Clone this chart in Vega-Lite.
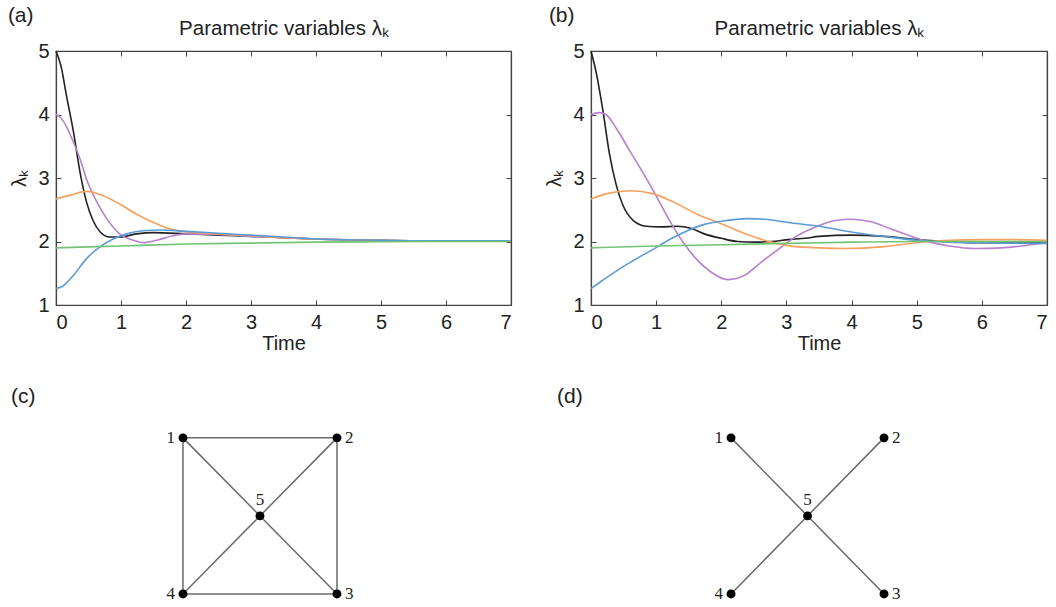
{
  "$schema": "https://vega.github.io/schema/vega-lite/v6.json",
  "padding": {"left": 7, "top": 3, "right": 0, "bottom": 0},
  "background": "white",
  "config": {
    "font": "Liberation Sans",
    "view": {"stroke": "#444", "strokeWidth": 1.2},
    "axis": {"grid": false, "domainColor": "#444", "domainWidth": 1.2, "tickColor": "#444", "tickSize": -5, "labelFontSize": 20, "titleFontSize": 20, "titleFontWeight": "normal", "labelColor": "#222", "titleColor": "#222", "labelPadding": 12},
    "title": {"color": "#222", "fontWeight": "normal", "fontSize": 21}
  },
  "datasets": {
    "a": [
      {"k": "λ5", "t": 0, "v": 5}, {"k": "λ5", "t": 0.08, "v": 4.75}, {"k": "λ5", "t": 0.16, "v": 4.3}, {"k": "λ5", "t": 0.27, "v": 3.72}, {"k": "λ5", "t": 0.37, "v": 3.09}, {"k": "λ5", "t": 0.47, "v": 2.62}, {"k": "λ5", "t": 0.57, "v": 2.33}, {"k": "λ5", "t": 0.68, "v": 2.15}, {"k": "λ5", "t": 0.83, "v": 2.07}, {"k": "λ5", "t": 0.98, "v": 2.07}, {"k": "λ5", "t": 1.24, "v": 2.12}, {"k": "λ5", "t": 1.5, "v": 2.14}, {"k": "λ5", "t": 2, "v": 2.12}, {"k": "λ5", "t": 2.5, "v": 2.1}, {"k": "λ5", "t": 3, "v": 2.08}, {"k": "λ5", "t": 3.5, "v": 2.06}, {"k": "λ5", "t": 4, "v": 2.04}, {"k": "λ5", "t": 5, "v": 2.02}, {"k": "λ5", "t": 6, "v": 2.01}, {"k": "λ5", "t": 7, "v": 2.01},
      {"k": "λ4", "t": 0, "v": 4.0}, {"k": "λ4", "t": 0.05, "v": 3.97}, {"k": "λ4", "t": 0.11, "v": 3.9}, {"k": "λ4", "t": 0.27, "v": 3.56}, {"k": "λ4", "t": 0.37, "v": 3.3}, {"k": "λ4", "t": 0.47, "v": 2.98}, {"k": "λ4", "t": 0.63, "v": 2.62}, {"k": "λ4", "t": 0.78, "v": 2.36}, {"k": "λ4", "t": 0.98, "v": 2.12}, {"k": "λ4", "t": 1.19, "v": 2.02}, {"k": "λ4", "t": 1.34, "v": 1.98}, {"k": "λ4", "t": 1.55, "v": 2.02}, {"k": "λ4", "t": 1.8, "v": 2.09}, {"k": "λ4", "t": 2, "v": 2.12}, {"k": "λ4", "t": 2.5, "v": 2.11}, {"k": "λ4", "t": 3, "v": 2.08}, {"k": "λ4", "t": 3.5, "v": 2.06}, {"k": "λ4", "t": 4, "v": 2.04}, {"k": "λ4", "t": 5, "v": 2.02}, {"k": "λ4", "t": 6, "v": 2.01}, {"k": "λ4", "t": 7, "v": 2.01},
      {"k": "λ2", "t": 0, "v": 2.67}, {"k": "λ2", "t": 0.22, "v": 2.73}, {"k": "λ2", "t": 0.47, "v": 2.79}, {"k": "λ2", "t": 0.73, "v": 2.72}, {"k": "λ2", "t": 0.98, "v": 2.59}, {"k": "λ2", "t": 1.24, "v": 2.43}, {"k": "λ2", "t": 1.5, "v": 2.3}, {"k": "λ2", "t": 1.75, "v": 2.2}, {"k": "λ2", "t": 2, "v": 2.15}, {"k": "λ2", "t": 2.5, "v": 2.12}, {"k": "λ2", "t": 3, "v": 2.09}, {"k": "λ2", "t": 3.5, "v": 2.06}, {"k": "λ2", "t": 4, "v": 2.04}, {"k": "λ2", "t": 5, "v": 2.02}, {"k": "λ2", "t": 6, "v": 2.01}, {"k": "λ2", "t": 7, "v": 2.01},
      {"k": "λ1", "t": 0, "v": 1.26}, {"k": "λ1", "t": 0.11, "v": 1.3}, {"k": "λ1", "t": 0.27, "v": 1.47}, {"k": "λ1", "t": 0.47, "v": 1.73}, {"k": "λ1", "t": 0.68, "v": 1.92}, {"k": "λ1", "t": 0.88, "v": 2.04}, {"k": "λ1", "t": 1.09, "v": 2.12}, {"k": "λ1", "t": 1.34, "v": 2.17}, {"k": "λ1", "t": 1.6, "v": 2.18}, {"k": "λ1", "t": 2, "v": 2.16}, {"k": "λ1", "t": 2.5, "v": 2.13}, {"k": "λ1", "t": 3, "v": 2.1}, {"k": "λ1", "t": 3.5, "v": 2.07}, {"k": "λ1", "t": 4, "v": 2.04}, {"k": "λ1", "t": 5, "v": 2.02}, {"k": "λ1", "t": 6, "v": 2.01}, {"k": "λ1", "t": 7, "v": 2.01},
      {"k": "λ3", "t": 0, "v": 1.9}, {"k": "λ3", "t": 1, "v": 1.93}, {"k": "λ3", "t": 2, "v": 1.96}, {"k": "λ3", "t": 3, "v": 1.975}, {"k": "λ3", "t": 4, "v": 1.99}, {"k": "λ3", "t": 5, "v": 1.995}, {"k": "λ3", "t": 6, "v": 2.0}, {"k": "λ3", "t": 7, "v": 2.0}
    ],
    "b": [
      {"k": "λ5", "t": 0, "v": 5}, {"k": "λ5", "t": 0.08, "v": 4.66}, {"k": "λ5", "t": 0.18, "v": 4.08}, {"k": "λ5", "t": 0.28, "v": 3.4}, {"k": "λ5", "t": 0.39, "v": 2.88}, {"k": "λ5", "t": 0.49, "v": 2.57}, {"k": "λ5", "t": 0.65, "v": 2.33}, {"k": "λ5", "t": 0.85, "v": 2.24}, {"k": "λ5", "t": 1.06, "v": 2.23}, {"k": "λ5", "t": 1.32, "v": 2.24}, {"k": "λ5", "t": 1.53, "v": 2.21}, {"k": "λ5", "t": 1.74, "v": 2.12}, {"k": "λ5", "t": 2, "v": 2.05}, {"k": "λ5", "t": 2.25, "v": 2.0}, {"k": "λ5", "t": 2.51, "v": 1.99}, {"k": "λ5", "t": 2.77, "v": 2.0}, {"k": "λ5", "t": 3.03, "v": 2.03}, {"k": "λ5", "t": 3.29, "v": 2.05}, {"k": "λ5", "t": 3.5, "v": 2.08}, {"k": "λ5", "t": 4, "v": 2.1}, {"k": "λ5", "t": 4.5, "v": 2.08}, {"k": "λ5", "t": 5, "v": 2.03}, {"k": "λ5", "t": 5.5, "v": 2.0}, {"k": "λ5", "t": 6, "v": 1.98}, {"k": "λ5", "t": 6.5, "v": 1.98}, {"k": "λ5", "t": 7, "v": 1.99},
      {"k": "λ4", "t": 0, "v": 4.0}, {"k": "λ4", "t": 0.13, "v": 4.03}, {"k": "λ4", "t": 0.23, "v": 4.0}, {"k": "λ4", "t": 0.39, "v": 3.78}, {"k": "λ4", "t": 0.6, "v": 3.42}, {"k": "λ4", "t": 0.8, "v": 3.08}, {"k": "λ4", "t": 1.0, "v": 2.72}, {"k": "λ4", "t": 1.2, "v": 2.34}, {"k": "λ4", "t": 1.42, "v": 1.98}, {"k": "λ4", "t": 1.63, "v": 1.71}, {"k": "λ4", "t": 1.84, "v": 1.52}, {"k": "λ4", "t": 2.1, "v": 1.4}, {"k": "λ4", "t": 2.36, "v": 1.47}, {"k": "λ4", "t": 2.62, "v": 1.68}, {"k": "λ4", "t": 2.88, "v": 1.88}, {"k": "λ4", "t": 3.13, "v": 2.07}, {"k": "λ4", "t": 3.45, "v": 2.23}, {"k": "λ4", "t": 3.75, "v": 2.33}, {"k": "λ4", "t": 4.0, "v": 2.35}, {"k": "λ4", "t": 4.3, "v": 2.31}, {"k": "λ4", "t": 4.6, "v": 2.2}, {"k": "λ4", "t": 5.0, "v": 2.05}, {"k": "λ4", "t": 5.2, "v": 1.99}, {"k": "λ4", "t": 5.5, "v": 1.93}, {"k": "λ4", "t": 5.9, "v": 1.89}, {"k": "λ4", "t": 6.3, "v": 1.9}, {"k": "λ4", "t": 6.7, "v": 1.94}, {"k": "λ4", "t": 7, "v": 1.98},
      {"k": "λ2", "t": 0, "v": 2.67}, {"k": "λ2", "t": 0.23, "v": 2.75}, {"k": "λ2", "t": 0.6, "v": 2.8}, {"k": "λ2", "t": 0.96, "v": 2.75}, {"k": "λ2", "t": 1.27, "v": 2.62}, {"k": "λ2", "t": 1.63, "v": 2.43}, {"k": "λ2", "t": 2.0, "v": 2.28}, {"k": "λ2", "t": 2.25, "v": 2.17}, {"k": "λ2", "t": 2.51, "v": 2.07}, {"k": "λ2", "t": 2.77, "v": 1.99}, {"k": "λ2", "t": 3.13, "v": 1.92}, {"k": "λ2", "t": 3.5, "v": 1.9}, {"k": "λ2", "t": 3.9, "v": 1.89}, {"k": "λ2", "t": 4.5, "v": 1.92}, {"k": "λ2", "t": 5, "v": 1.98}, {"k": "λ2", "t": 5.5, "v": 2.02}, {"k": "λ2", "t": 6, "v": 2.03}, {"k": "λ2", "t": 6.5, "v": 2.03}, {"k": "λ2", "t": 7, "v": 2.02},
      {"k": "λ1", "t": 0, "v": 1.26}, {"k": "λ1", "t": 0.18, "v": 1.39}, {"k": "λ1", "t": 0.44, "v": 1.57}, {"k": "λ1", "t": 0.7, "v": 1.73}, {"k": "λ1", "t": 0.96, "v": 1.88}, {"k": "λ1", "t": 1.22, "v": 2.04}, {"k": "λ1", "t": 1.48, "v": 2.17}, {"k": "λ1", "t": 1.74, "v": 2.27}, {"k": "λ1", "t": 2.0, "v": 2.32}, {"k": "λ1", "t": 2.41, "v": 2.36}, {"k": "λ1", "t": 2.67, "v": 2.35}, {"k": "λ1", "t": 3.03, "v": 2.3}, {"k": "λ1", "t": 3.5, "v": 2.24}, {"k": "λ1", "t": 4, "v": 2.15}, {"k": "λ1", "t": 4.5, "v": 2.08}, {"k": "λ1", "t": 5, "v": 2.02}, {"k": "λ1", "t": 5.5, "v": 1.99}, {"k": "λ1", "t": 6, "v": 1.98}, {"k": "λ1", "t": 7, "v": 1.97},
      {"k": "λ3", "t": 0, "v": 1.9}, {"k": "λ3", "t": 1, "v": 1.93}, {"k": "λ3", "t": 2, "v": 1.95}, {"k": "λ3", "t": 3, "v": 1.97}, {"k": "λ3", "t": 4, "v": 1.99}, {"k": "λ3", "t": 5, "v": 2.0}, {"k": "λ3", "t": 7, "v": 2.0}
    ],
    "nodes": [
      {"n": "1", "x": -1, "y": 1}, {"n": "2", "x": 1, "y": 1}, {"n": "3", "x": 1, "y": -1}, {"n": "4", "x": -1, "y": -1}, {"n": "5", "x": 0, "y": 0}
    ],
    "edgesC": [
      {"x1": -1, "y1": 1, "x2": 1, "y2": 1}, {"x1": 1, "y1": 1, "x2": 1, "y2": -1}, {"x1": 1, "y1": -1, "x2": -1, "y2": -1}, {"x1": -1, "y1": -1, "x2": -1, "y2": 1},
      {"x1": -1, "y1": 1, "x2": 0, "y2": 0}, {"x1": 1, "y1": 1, "x2": 0, "y2": 0}, {"x1": 1, "y1": -1, "x2": 0, "y2": 0}, {"x1": -1, "y1": -1, "x2": 0, "y2": 0}
    ],
    "edgesD": [
      {"x1": -1, "y1": 1, "x2": 0, "y2": 0}, {"x1": 1, "y1": 1, "x2": 0, "y2": 0}, {"x1": 1, "y1": -1, "x2": 0, "y2": 0}, {"x1": -1, "y1": -1, "x2": 0, "y2": 0}
    ]
  },
  "spacing": 32,
  "vconcat": [
    {
      "spacing": 29,
      "hconcat": [
        {
          "width": 455, "height": 254,
          "title": {"text": "(a)", "anchor": "start", "frame": "bounds", "offset": -7, "dx": -2},
          "data": {"name": "a"},
          "layer": [
            {
              "mark": {"type": "line", "strokeWidth": 1.6, "interpolate": "monotone"},
              "encoding": {
                "x": {"field": "t", "type": "quantitative", "scale": {"domain": [0, 7], "nice": false}, "axis": {"title": "Time", "values": [0, 1, 2, 3, 4, 5, 6, 7], "titlePadding": 1}},
                "y": {"field": "v", "type": "quantitative", "scale": {"domain": [1, 5], "nice": false, "zero": false}, "axis": {"title": "λₖ", "values": [1, 2, 3, 4, 5], "titlePadding": 8}},
                "color": {"field": "k", "type": "nominal", "scale": {"domain": ["λ1", "λ2", "λ3", "λ4", "λ5"], "range": ["#5b9bd5", "#f5a05c", "#72c472", "#b77fd0", "#222222"]}, "legend": null}
              }
            },
            {
              "mark": {"type": "line", "strokeOpacity": 0},
              "encoding": {
                "x": {"field": "t", "type": "quantitative", "axis": {"orient": "top", "labels": false, "title": "Parametric variables λₖ", "titleFontSize": 20.5, "titlePadding": 12, "values": [0, 1, 2, 3, 4, 5, 6, 7]}},
                "y": {"field": "v", "type": "quantitative", "axis": {"orient": "right", "labels": false, "title": null, "values": [1, 2, 3, 4, 5]}},
                "detail": {"field": "k"}
              }
            }
          ],
          "resolve": {"axis": {"x": "independent", "y": "independent"}}
        },
        {
          "width": 456, "height": 254,
          "title": {"text": "(b)", "anchor": "start", "frame": "bounds", "offset": -7, "dx": 4},
          "data": {"name": "b"},
          "layer": [
            {
              "mark": {"type": "line", "strokeWidth": 1.6, "interpolate": "monotone"},
              "encoding": {
                "x": {"field": "t", "type": "quantitative", "scale": {"domain": [0, 7], "nice": false}, "axis": {"title": "Time", "values": [0, 1, 2, 3, 4, 5, 6, 7], "titlePadding": 1}},
                "y": {"field": "v", "type": "quantitative", "scale": {"domain": [1, 5], "nice": false, "zero": false}, "axis": {"title": "λₖ", "values": [1, 2, 3, 4, 5], "titlePadding": 8}},
                "color": {"field": "k", "type": "nominal", "scale": {"domain": ["λ1", "λ2", "λ3", "λ4", "λ5"], "range": ["#5b9bd5", "#f5a05c", "#72c472", "#b77fd0", "#222222"]}, "legend": null}
              }
            },
            {
              "mark": {"type": "line", "strokeOpacity": 0},
              "encoding": {
                "x": {"field": "t", "type": "quantitative", "axis": {"orient": "top", "labels": false, "title": "Parametric variables λₖ", "titleFontSize": 20.5, "titlePadding": 12, "values": [0, 1, 2, 3, 4, 5, 6, 7]}},
                "y": {"field": "v", "type": "quantitative", "axis": {"orient": "right", "labels": false, "title": null, "values": [1, 2, 3, 4, 5]}},
                "detail": {"field": "k"}
              }
            }
          ],
          "resolve": {"axis": {"x": "independent", "y": "independent"}}
        }
      ]
    },
    {
      "spacing": 46,
      "hconcat": [
        {
          "width": 455, "height": 192,
          "view": {"stroke": null},
          "title": {"text": "(c)", "anchor": "start", "frame": "group", "offset": 9, "dx": -45},
          "layer": [
            {
              "data": {"name": "edgesC"},
              "mark": {"type": "rule", "color": "#6a6a6a", "strokeWidth": 1.5},
              "encoding": {
                "x": {"field": "x1", "type": "quantitative", "scale": {"domain": [-2.649, 3.26], "nice": false, "zero": false}, "axis": null},
                "y": {"field": "y1", "type": "quantitative", "scale": {"domain": [-1.18, 1.28], "nice": false, "zero": false}, "axis": null},
                "x2": {"field": "x2"}, "y2": {"field": "y2"}
              }
            },
            {
              "data": {"name": "nodes"},
              "mark": {"type": "point", "filled": true, "color": "#000000", "opacity": 1, "size": 80},
              "encoding": {"x": {"field": "x", "type": "quantitative"}, "y": {"field": "y", "type": "quantitative"}}
            },
            {
              "data": {"name": "nodes"},
              "transform": [{"filter": "datum.n == '1' || datum.n == '4'"}],
              "mark": {"type": "text", "font": "Liberation Serif", "fontSize": 17, "color": "#222", "align": "right", "baseline": "middle", "dx": -8},
              "encoding": {"x": {"field": "x", "type": "quantitative"}, "y": {"field": "y", "type": "quantitative"}, "text": {"field": "n"}}
            },
            {
              "data": {"name": "nodes"},
              "transform": [{"filter": "datum.n == '2' || datum.n == '3'"}],
              "mark": {"type": "text", "font": "Liberation Serif", "fontSize": 17, "color": "#222", "align": "left", "baseline": "middle", "dx": 8},
              "encoding": {"x": {"field": "x", "type": "quantitative"}, "y": {"field": "y", "type": "quantitative"}, "text": {"field": "n"}}
            },
            {
              "data": {"name": "nodes"},
              "transform": [{"filter": "datum.n == '5'"}],
              "mark": {"type": "text", "font": "Liberation Serif", "fontSize": 17, "color": "#222", "align": "center", "baseline": "middle", "dy": -16},
              "encoding": {"x": {"field": "x", "type": "quantitative"}, "y": {"field": "y", "type": "quantitative"}, "text": {"field": "n"}}
            }
          ]
        },
        {
          "width": 484, "height": 192,
          "view": {"stroke": null},
          "title": {"text": "(d)", "anchor": "start", "frame": "group", "offset": 9},
          "layer": [
            {
              "data": {"name": "edgesD"},
              "mark": {"type": "rule", "color": "#6a6a6a", "strokeWidth": 1.5},
              "encoding": {
                "x": {"field": "x1", "type": "quantitative", "scale": {"domain": [-3.275, 3.052], "nice": false, "zero": false}, "axis": null},
                "y": {"field": "y1", "type": "quantitative", "scale": {"domain": [-1.18, 1.28], "nice": false, "zero": false}, "axis": null},
                "x2": {"field": "x2"}, "y2": {"field": "y2"}
              }
            },
            {
              "data": {"name": "nodes"},
              "mark": {"type": "point", "filled": true, "color": "#000000", "opacity": 1, "size": 80},
              "encoding": {"x": {"field": "x", "type": "quantitative"}, "y": {"field": "y", "type": "quantitative"}}
            },
            {
              "data": {"name": "nodes"},
              "transform": [{"filter": "datum.n == '1' || datum.n == '4'"}],
              "mark": {"type": "text", "font": "Liberation Serif", "fontSize": 17, "color": "#222", "align": "right", "baseline": "middle", "dx": -8},
              "encoding": {"x": {"field": "x", "type": "quantitative"}, "y": {"field": "y", "type": "quantitative"}, "text": {"field": "n"}}
            },
            {
              "data": {"name": "nodes"},
              "transform": [{"filter": "datum.n == '2' || datum.n == '3'"}],
              "mark": {"type": "text", "font": "Liberation Serif", "fontSize": 17, "color": "#222", "align": "left", "baseline": "middle", "dx": 8},
              "encoding": {"x": {"field": "x", "type": "quantitative"}, "y": {"field": "y", "type": "quantitative"}, "text": {"field": "n"}}
            },
            {
              "data": {"name": "nodes"},
              "transform": [{"filter": "datum.n == '5'"}],
              "mark": {"type": "text", "font": "Liberation Serif", "fontSize": 17, "color": "#222", "align": "center", "baseline": "middle", "dy": -16},
              "encoding": {"x": {"field": "x", "type": "quantitative"}, "y": {"field": "y", "type": "quantitative"}, "text": {"field": "n"}}
            }
          ]
        }
      ]
    }
  ]
}
